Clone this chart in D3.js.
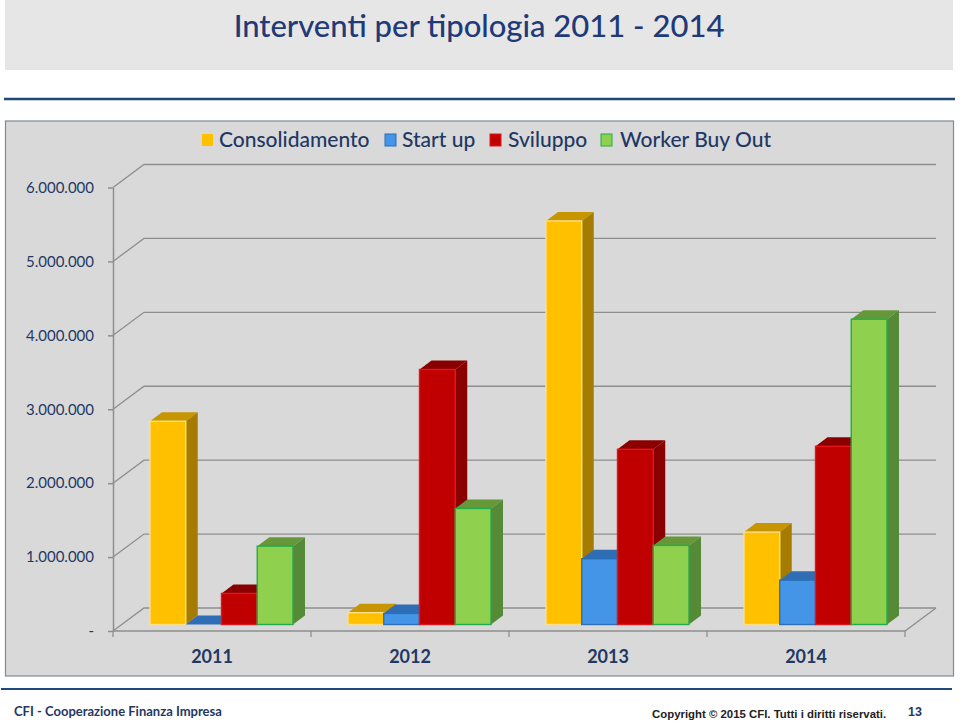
<!DOCTYPE html>
<html>
<head>
<meta charset="utf-8">
<script src="https://d3js.org/d3.v7.min.js"></script>
<style>
  html, body { margin: 0; padding: 0; background: #fff; }
  svg { display: block; }
  text { font-family: Lato, "Open Sans", sans-serif; fill: #1f3864; }
</style>
</head>
<body>
<svg width="960" height="723"></svg>
<script>
const years = ['2011', '2012', '2013', '2014'];
const seriesNames = ['Consolidamento', 'Start up', 'Sviluppo', 'Worker Buy Out'];
const consolidamento = [2750000, 160000, 5460000, 1250000];
const startUp = [0, 150000, 890000, 600000];
const sviluppo = [420000, 3450000, 2370000, 2410000];
const workerBuyOut = [1060000, 1570000, 1070000, 4130000];
const yTicks = [0, 1000000, 2000000, 3000000, 4000000, 5000000, 6000000];

const seriesValues = [consolidamento, startUp, sviluppo, workerBuyOut];
const colors = [
  { front: '#ffc000', side: '#a67c00', top: '#c79500', edge: '#ffdf85' },
  { front: '#4495e8', side: '#2f6db5', top: '#2f6db5', edge: '#2a6fb8' },
  { front: '#c00000', side: '#8a0000', top: '#8a0000', edge: '#e3161c' },
  { front: '#8fd14f', side: '#558b36', top: '#66983a', edge: '#22ad4c' }
];
const legendX = [202, 385, 490, 601];
const legendTextX = [219, 402, 508, 620];

// 3d look: back wall offset, and how far the bars sit in from the front
const wallDx = 31, wallDy = -23;
const depthDx = 12, depthDy = -9;
const barLift = 6.5;

const svg = d3.select('svg');
const fmt = d => d === 0 ? '-' : d3.format(',')(d).replace(/,/g, '.');

const y = d3.scaleLinear().domain([0, 6000000]).range([631, 187.5]);
const x0 = d3.scaleBand().domain(years).range([113, 905]);
const x1 = d3.scaleBand().domain(seriesNames).range([37, 180]);

// title band and rules
svg.append('rect').attr('x', 5).attr('y', 0).attr('width', 948).attr('height', 70).attr('fill', '#e6e6e6');
svg.append('text').attr('x', 479).attr('y', 37).attr('text-anchor', 'middle')
  .style('font-size', '31px').style('font-weight', 500).style('fill', '#1f3a78')
  .text('Interventi per tipologia 2011 - 2014');
svg.append('line').attr('x1', 4).attr('x2', 955).attr('y1', 99).attr('y2', 99).attr('stroke', '#1f497d').attr('stroke-width', 2.5);
svg.append('line').attr('x1', 1).attr('x2', 952).attr('y1', 689).attr('y2', 689).attr('stroke', '#1f497d').attr('stroke-width', 2);

// chart panel
svg.append('rect').attr('x', 5.5).attr('y', 121).attr('width', 948).attr('height', 555)
  .attr('fill', '#d9d9d9').attr('stroke', '#7f8a94').attr('stroke-width', 1.2);

// walls
const grid = svg.append('g').attr('fill', 'none').attr('stroke', '#8e8e8e').attr('stroke-width', 1.3);
grid.selectAll('path').data(yTicks).enter().append('path')
  .attr('d', d => `M113,${y(d)}L${113 + wallDx},${y(d) + wallDy}H${905 + wallDx}`);
grid.append('path').attr('d', `M113,${y(0)}H905L${905 + wallDx},${y(0) + wallDy}`);

// axes
const yAxis = svg.append('g').attr('transform', 'translate(113,0)')
  .call(d3.axisLeft(y).tickValues(yTicks).tickFormat(fmt).tickSize(5).tickSizeOuter(0).tickPadding(14));
yAxis.selectAll('line, path').attr('stroke', '#8e8e8e').attr('stroke-width', 1.5);
yAxis.selectAll('text').style('font-size', '15px').style('font-family', 'Lato');

const xAxis = svg.append('g').attr('transform', `translate(0,${y(0)})`)
  .call(d3.axisBottom(x0).tickSize(0).tickPadding(19));
xAxis.select('.domain').remove();
xAxis.selectAll('text').style('font-size', '18px').style('font-weight', 700).style('font-family', 'Lato');

svg.append('g').selectAll('line').data(years.map(d => x0(d)).concat([905])).enter().append('line')
  .attr('x1', d => d).attr('x2', d => d).attr('y1', y(0)).attr('y2', y(0) + 6)
  .attr('stroke', '#8e8e8e').attr('stroke-width', 1.3);

// bars, left to right so every front covers the neighbour's side
const bars = [];
years.forEach((yr, i) => {
  seriesNames.forEach((name, s) => {
    bars.push({ year: yr, name: name, s: s, value: seriesValues[s][i] });
  });
});

const barG = svg.append('g').selectAll('g').data(bars).enter().append('g');
const barLeft = d => x0(d.year) + x1(d.name);
const barW = x1.bandwidth();
const barBase = y(0) - barLift;
const barTop = d => y(d.value) - barLift;

barG.append('path').attr('fill', d => colors[d.s].top)
  .attr('d', d => `M${barLeft(d)},${barTop(d)}l${depthDx},${depthDy}h${barW}l${-depthDx},${-depthDy}z`);
barG.append('path').attr('fill', d => colors[d.s].side)
  .attr('d', d => `M${barLeft(d) + barW},${barTop(d)}l${depthDx},${depthDy}V${barBase + depthDy}l${-depthDx},${-depthDy}z`);
barG.append('rect')
  .attr('x', barLeft).attr('y', barTop).attr('width', barW).attr('height', d => barBase - barTop(d))
  .attr('fill', d => colors[d.s].front).attr('stroke', d => colors[d.s].edge).attr('stroke-width', 1.4);

// legend
const legend = svg.append('g').selectAll('g').data(seriesNames).enter().append('g');
legend.append('rect').attr('x', (d, i) => legendX[i]).attr('y', 134).attr('width', 11).attr('height', 12)
  .attr('fill', (d, i) => colors[i].front).attr('stroke', (d, i) => i === 0 ? 'none' : colors[i].edge);
legend.append('text').attr('x', (d, i) => legendTextX[i]).attr('y', 146.5)
  .style('font-size', '21px').style('font-weight', 500).text(d => d);

// footer
svg.append('text').attr('x', 14).attr('y', 716).style('font-size', '13px').style('font-weight', 700)
  .text('CFI - Cooperazione Finanza Impresa');
svg.append('text').attr('x', 652).attr('y', 718)
  .style('font-family', '"Liberation Sans"').style('font-size', '11.4px').style('font-weight', 700).style('fill', '#222')
  .text('Copyright \u00a9 2015 CFI. Tutti i diritti riservati.');
svg.append('text').attr('x', 908).attr('y', 716)
  .style('font-family', '"Liberation Sans"').style('font-size', '12.5px').style('font-weight', 700)
  .text('13');
</script>
</body>
</html>
